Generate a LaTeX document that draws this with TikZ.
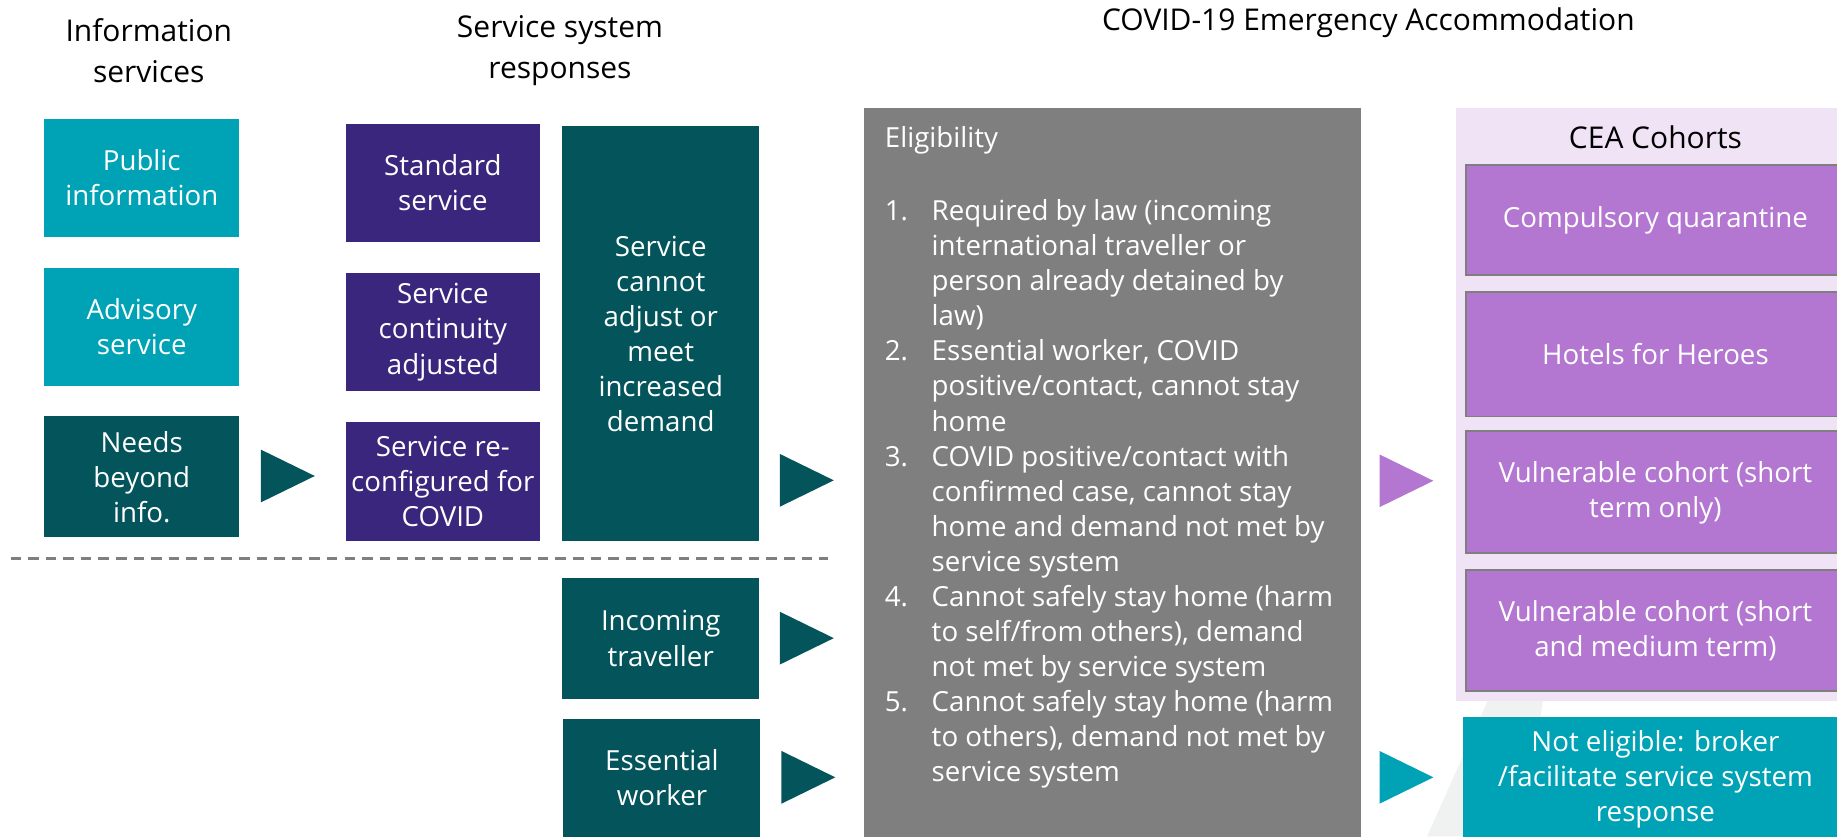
\documentclass[tikz,border=0pt]{standalone}
\usepackage{fontspec}
\setmainfont{Open Sans}

\definecolor{infoteal}{HTML}{00A3B5}
\definecolor{deepteal}{HTML}{03555B}
\definecolor{svcpurple}{HTML}{3B267D}
\definecolor{eliggrey}{HTML}{7F7F7F}
\definecolor{cohortpurple}{HTML}{B377D2}
\definecolor{cohortbg}{HTML}{F0E3F6}
\definecolor{logogrey}{HTML}{F0F1F1}

\newcommand{\bodyfont}{\fontsize{16.8}{21.3}\selectfont}
\newcommand{\headfont}{\fontsize{18.2}{24.9}\selectfont}
\newcommand{\itemno}[1]{\makebox[1cm][l]{#1.}}
\newcommand{\itemgap}{\hspace*{1cm}}
% right-pointing flow marker: colour, centre x, centre y
\newcommand{\flowtip}[3]{\fill[#1] (#2-23,#3-22.5) -- (#2+23,#3) -- (#2-23,#3+22.5) -- cycle;}

\tikzset{
  block/.style={rectangle, inner sep=0pt, align=center, text=white, font=\bodyfont},
  infobox/.style={block, fill=infoteal, minimum width=4.15cm, minimum height=2.525cm},
  svcbox/.style={block, fill=svcpurple, minimum width=4.15cm, minimum height=2.525cm},
  needbox/.style={block, fill=deepteal, minimum width=4.2cm, minimum height=2.575cm},
  cohortbox/.style={block, fill=cohortpurple, draw=eliggrey, line width=1.2pt, minimum width=8.1cm},
  heading/.style={align=center, font=\headfont},
}

\begin{document}
\begin{tikzpicture}[x=0.025cm, y=-0.025cm]
    \useasboundingbox (0,0) rectangle (1568,714);
    \clip (0,0) rectangle (1568,714);

    % faint logo behind the right column
    \fill[logogrey] (1218,714) -- (1270,598) -- (1317,598) -- (1300,714) -- cycle;

    % Column headings
    \node[heading] (infohead) at (127,43) {Information\\services};
    \node[heading] (svchead) at (478,43) {Service system\\responses};
    \node[heading] (ceahead) at (1168,19) {COVID-19 Emergency Accommodation};

    % Information services
    \node[infobox] (public) at (121,152) {Public\\information};
    \node[infobox] (advisory) at (121,279) {Advisory\\service};
    \node[infobox, fill=deepteal, minimum height=2.575cm] (needs) at (121,407) {Needs\\beyond\\info.};

    % Service system responses
    \node[svcbox] (standard) at (378,156) {Standard\\service};
    \node[svcbox] (continuity) at (378,283.5) {Service\\continuity\\adjusted};
    \node[svcbox] (reconfig) at (378,411) {Service re-\\configured for\\COVID};
    \node[needbox, minimum height=8.85cm] (cannot) at (564,285) {Service\\cannot\\adjust or\\meet\\increased\\demand};
    \node[needbox] (incoming) at (564,545) {Incoming\\traveller};
    \node[needbox, minimum height=2.5cm] (essential) at (565,664) {Essential\\worker};

    \draw[eliggrey, line width=1.8pt, dash pattern=on 0.225cm off 0.15cm] (9,477) -- (707,477);

    \flowtip{deepteal}{245.7}{406.3}
    \flowtip{deepteal}{688.7}{410}
    \flowtip{deepteal}{688.7}{544.7}
    \flowtip{deepteal}{690}{663.5}

    % Eligibility
    \node[block, fill=eliggrey, minimum width=10.61cm, minimum height=15.6cm] (elig) at (949.5,404) {};
    \node[anchor=west, text=white, font=\bodyfont, inner sep=0pt] (eligtitle) at (755,120) {Eligibility};
    \node[anchor=north west, text=white, font=\bodyfont, align=left, inner sep=0pt] (criteria) at (755,170) {%
        \itemno{1}Required by law (incoming\\
        \itemgap international traveller or\\
        \itemgap person already detained by\\
        \itemgap law)\\
        \itemno{2}Essential worker, COVID\\
        \itemgap positive/contact, cannot stay\\
        \itemgap home\\
        \itemno{3}COVID positive/contact with\\
        \itemgap confirmed case, cannot stay\\
        \itemgap home and demand not met by\\
        \itemgap service system\\
        \itemno{4}Cannot safely stay home (harm\\
        \itemgap to self/from others), demand\\
        \itemgap not met by service system\\
        \itemno{5}Cannot safely stay home (harm\\
        \itemgap to others), demand not met by\\
        \itemgap service system};

    \flowtip{cohortpurple}{1200.5}{410.4}
    \flowtip{infoteal}{1200.5}{663.5}

    % CEA cohorts
    \node[rectangle, fill=cohortbg, inner sep=0pt, minimum width=8.3cm, minimum height=12.64cm] (cohorts) at (1409,345.3) {};
    \node[font=\headfont] (cohorthead) at (1413,117) {CEA Cohorts};
    \node[cohortbox, minimum height=2.35cm] (quarantine) at (1413,187.8) {Compulsory quarantine};
    \node[cohortbox, minimum height=2.65cm] (heroes) at (1413,302.5) {Hotels for Heroes};
    \node[cohortbox, minimum height=2.6cm] (shortterm) at (1413,420.3) {Vulnerable cohort (short\\term only)};
    \node[cohortbox, minimum height=2.575cm] (mediumterm) at (1413,538.2) {Vulnerable cohort (short\\and medium term)};
    \node[block, fill=infoteal, minimum width=8.2cm, minimum height=2.65cm] (noteligible) at (1413,665) {Not eligible: broker\\/facilitate service system\\response};
\end{tikzpicture}
\end{document}
